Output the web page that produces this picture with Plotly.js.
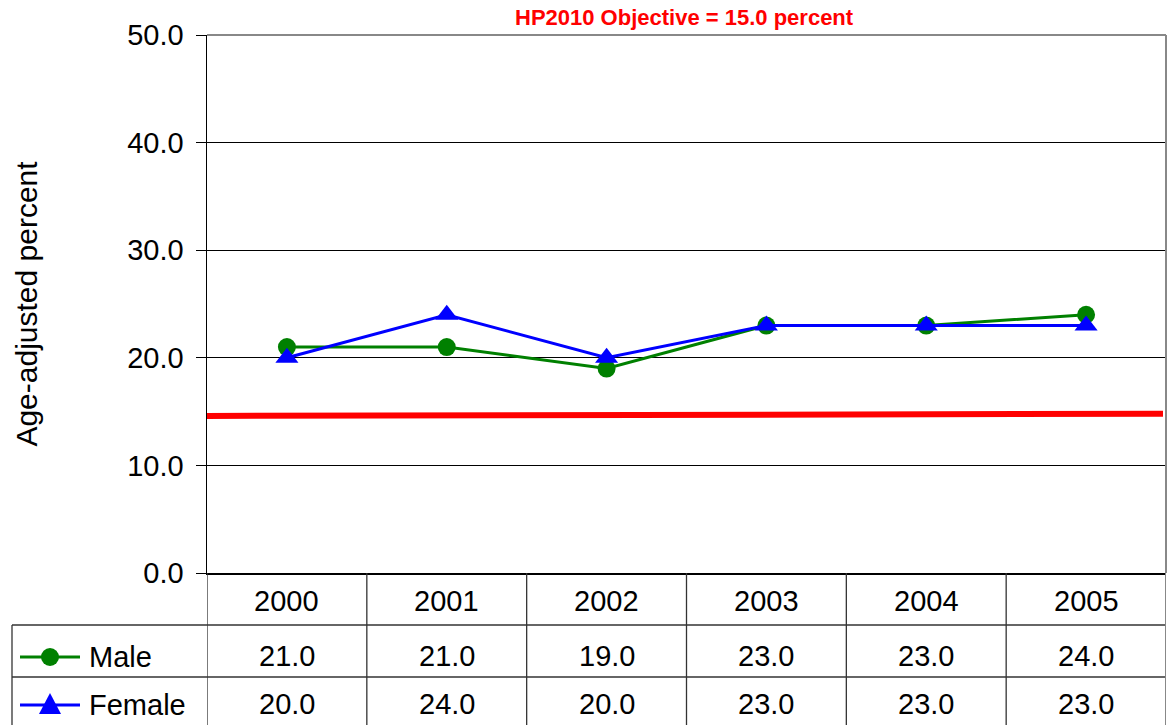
<!DOCTYPE html>
<html><head><meta charset="utf-8">
<script src="https://cdn.plot.ly/plotly-3.0.1.min.js"></script>
<style>body{margin:0;padding:0;background:#fff}#chart{width:1174px;height:725px}</style>
</head><body><div id="chart"></div>
<script>
const years = ['2000','2001','2002','2003','2004','2005'];
const male = [21.0, 21.0, 19.0, 23.0, 23.0, 24.0];
const female = [20.0, 24.0, 20.0, 23.0, 23.0, 23.0];
const objectiveStart = 14.6;
const objectiveEnd = 14.8;
const objectiveLabel = 'HP2010 Objective = 15.0 percent';
const yTicks = [0, 10, 20, 30, 40, 50];

const W = 1174, H = 725, L = 207, R = 8, T = 35, B = 152;
const pw = W - L - R, ph = H - T - B;
const px = x => (x - L) / pw;
const py = y => (H - B - y) / ph;
const FONT = 'Arial, Liberation Sans, sans-serif';
const FS = 29;

const traces = [
  {x: years, y: male, type: 'scatter', mode: 'lines+markers', name: 'Male',
   line: {color: '#008000', width: 3}, marker: {symbol: 'circle', size: 18, color: '#008000'}},
  {x: years, y: female, type: 'scatter', mode: 'lines+markers', name: 'Female',
   line: {color: '#0000ff', width: 3}, marker: {symbol: 'triangle-up', size: 20, color: '#0000ff'}}
];

const shapes = [];
const annotations = [];
shapes.push({type: 'line', xref: 'paper', yref: 'y', x0: 0, x1: px(1163), y0: objectiveStart, y1: objectiveEnd,
  line: {color: '#ff0000', width: 6}});
shapes.push({type: 'line', xref: 'paper', yref: 'paper', x0: 0, x1: 1, y0: 1, y1: 1, line: {color: '#888', width: 2}});
shapes.push({type: 'line', xref: 'paper', yref: 'paper', x0: 1, x1: 1, y0: 0, y1: 1, line: {color: '#888', width: 2}});
shapes.push({type: 'line', xref: 'paper', yref: 'paper', x0: px(12), x1: 1, y0: py(625), y1: py(625), line: {color: '#333', width: 1.3}});
shapes.push({type: 'line', xref: 'paper', yref: 'paper', x0: px(12), x1: 1, y0: py(677), y1: py(677), line: {color: '#333', width: 1.3}});
shapes.push({type: 'line', xref: 'paper', yref: 'paper', x0: px(12), x1: px(12), y0: py(625), y1: py(725), line: {color: '#333', width: 1.3}});
for (let i = 0; i <= years.length; i++) {
  shapes.push({type: 'line', xref: 'x', yref: 'paper', x0: i - 0.5, x1: i - 0.5, y0: py(573), y1: py(725),
    line: {color: i === years.length ? '#888' : '#333', width: i === years.length ? 2 : 1.3}});
}
const keyRows = [{name: 'Male', y: 657, color: '#008000', sym: 'circle'}, {name: 'Female', y: 705, color: '#0000ff', sym: 'tri'}];
keyRows.forEach(k => {
  shapes.push({type: 'line', xref: 'paper', yref: 'paper', x0: px(20), x1: px(80), y0: py(k.y), y1: py(k.y), line: {color: k.color, width: 3}});
  if (k.sym === 'circle') {
    shapes.push({type: 'circle', xref: 'paper', yref: 'paper', x0: px(41), x1: px(59), y0: py(k.y - 9), y1: py(k.y + 9),
      fillcolor: k.color, line: {color: k.color, width: 0}});
  } else {
    shapes.push({type: 'path', xref: 'paper', yref: 'paper',
      path: `M ${px(39)} ${py(k.y + 9)} L ${px(61)} ${py(k.y + 9)} L ${px(50)} ${py(k.y - 12)} Z`,
      fillcolor: k.color, line: {color: k.color, width: 0}});
  }
  annotations.push({xref: 'paper', yref: 'paper', x: px(87), y: py(k.y), text: k.name, showarrow: false,
    xanchor: 'left', yanchor: 'middle', font: {family: FONT, size: FS, color: '#000'}});
});
years.forEach((yr, i) => {
  annotations.push({xref: 'x', yref: 'paper', x: i, y: py(601), text: yr, showarrow: false, xanchor: 'center', yanchor: 'middle',
    font: {family: FONT, size: FS, color: '#000'}});
  annotations.push({xref: 'x', yref: 'paper', x: i, y: py(656), text: male[i].toFixed(1), showarrow: false, xanchor: 'center', yanchor: 'middle',
    font: {family: FONT, size: FS, color: '#000'}});
  annotations.push({xref: 'x', yref: 'paper', x: i, y: py(704), text: female[i].toFixed(1), showarrow: false, xanchor: 'center', yanchor: 'middle',
    font: {family: FONT, size: FS, color: '#000'}});
});
annotations.push({xref: 'paper', yref: 'paper', x: px(684), y: py(18), text: '<b>' + objectiveLabel + '</b>', showarrow: false,
  xanchor: 'center', yanchor: 'middle', font: {family: FONT, size: 22, color: '#ff0000'}});

const layout = {
  width: W, height: H, margin: {l: L, r: R, t: T, b: B, pad: 0},
  paper_bgcolor: '#fff', plot_bgcolor: '#fff', showlegend: false,
  xaxis: {type: 'category', range: [-0.5, 5.5], showticklabels: false, showgrid: false, zeroline: false,
    showline: true, linecolor: '#000', linewidth: 1.5, ticks: '', fixedrange: true},
  yaxis: {range: [0, 50], tickvals: yTicks, ticktext: yTicks.map(v => v.toFixed(1)), showgrid: true, gridcolor: '#000', gridwidth: 1,
    zeroline: false, showline: true, linecolor: '#000', linewidth: 1.5, ticks: 'outside', ticklen: 10, tickcolor: '#000',
    ticklabelstandoff: 6,
    tickfont: {family: FONT, size: FS, color: '#000'},
    title: {text: 'Age-adjusted percent', font: {family: FONT, size: 30, color: '#000'}, standoff: 80}},
  shapes: shapes, annotations: annotations
};
Plotly.newPlot('chart', traces, layout, {displayModeBar: false, staticPlot: true});
</script></body></html>
